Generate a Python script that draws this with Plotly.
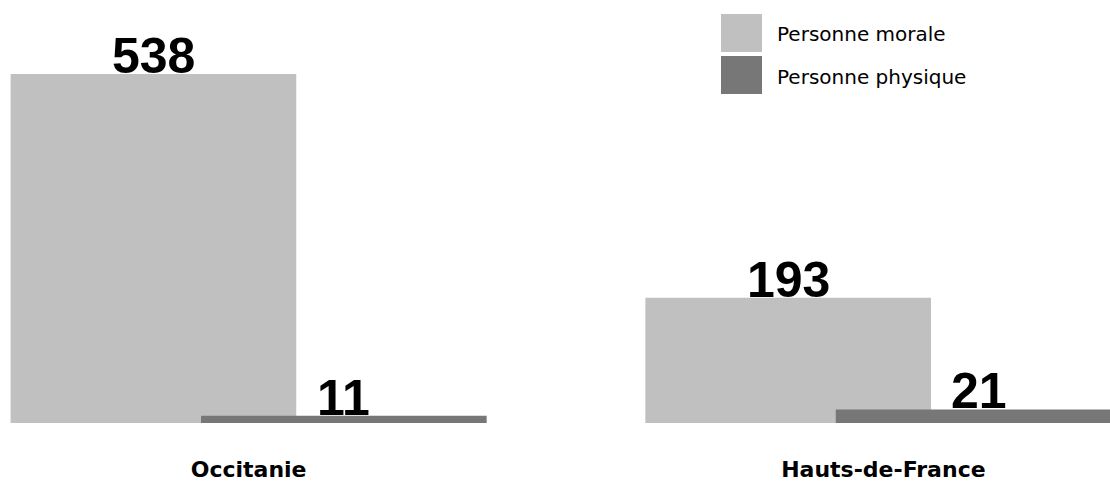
import plotly.graph_objects as go

categories = ["Occitanie", "Hauts-de-France"]
series_names = ["Personne morale", "Personne physique"]
morale = [538, 193]
physique = [11, 21]
colors = ["#c0c0c0", "#777777"]

W, H = 1110, 482
M_L, M_R, M_T, M_B = 0, 0, 0, 59
plot_h = H - M_T - M_B

BAR_W = 0.45
offsets = [-0.375, -0.075]

fig = go.Figure()
for name, vals, col, off in zip(series_names, [morale, physique], colors, offsets):
    fig.add_trace(go.Bar(
        x=list(range(len(categories))), y=vals, name=name,
        marker=dict(color=col, line=dict(width=0)),
        width=BAR_W, offset=off, showlegend=False, hoverinfo="skip",
    ))
    for i, v in enumerate(vals):
        fig.add_annotation(
            x=i + off + BAR_W / 2, y=v, xref="x", yref="y",
            text=f"<b>{v}</b>", showarrow=False, yanchor="bottom",
            yshift=-12,
            font=dict(family="Liberation Sans, Arial", size=50, color="black"),
        )

# custom legend (large swatches)
def px_x(px):
    return (px - M_L) / (W - M_L - M_R)

def px_y(py):
    return 1 - (py - M_T) / plot_h

legend_rows = [(14, 52), (56, 94)]
for (y0, y1), name, col in zip(legend_rows, series_names, colors):
    fig.add_shape(type="rect", xref="paper", yref="paper",
                  x0=px_x(721), x1=px_x(762), y0=px_y(y1), y1=px_y(y0),
                  fillcolor=col, line=dict(width=0))
    fig.add_annotation(x=px_x(775), y=px_y((y0 + y1) / 2 + 1.5), xref="paper", yref="paper",
                       text=name, showarrow=False, xanchor="left", yanchor="middle",
                       font=dict(family="DejaVu Sans", size=20, color="black"))

fig.update_layout(
    width=W, height=H,
    margin=dict(l=M_L, r=M_R, t=M_T, b=M_B, pad=0),
    paper_bgcolor="white", plot_bgcolor="white",
    barmode="overlay",
    xaxis=dict(
        range=[-0.3917, 1.357], tickmode="array",
        tickvals=list(range(len(categories))), ticktext=[f"<b>{c}</b>" for c in categories],
        tickfont=dict(family="DejaVu Sans", size=22, color="black"),
        showgrid=False, zeroline=False, showline=False, ticks="",
        ticklabelstandoff=31,
    ),
    yaxis=dict(range=[0, 652], visible=False, showgrid=False, zeroline=False),
)

fig.write_html("out.html", config={"displayModeBar": False},
               post_script="document.body.style.margin='0px';")
